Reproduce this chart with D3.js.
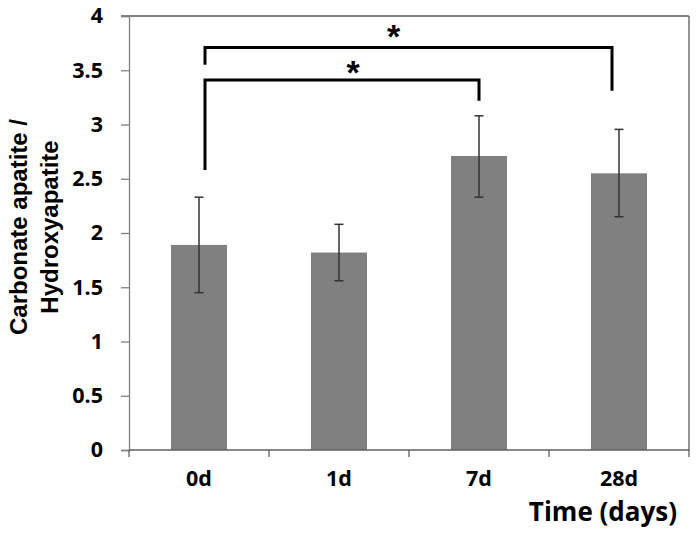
<!DOCTYPE html>
<html><head><meta charset="utf-8">
<script src="https://cdn.jsdelivr.net/npm/d3@7"></script>
<style>body{margin:0;background:#fff}svg{display:block}</style>
</head><body>
<svg id="c" width="699" height="535"></svg>
<script>
const categories = ["0d", "1d", "7d", "28d"];
const values = [1.89, 1.82, 2.71, 2.55];
const errLow = [1.45, 1.56, 2.33, 2.15];
const errHigh = [2.33, 2.08, 3.08, 2.955];
const yTicks = [0, 0.5, 1, 1.5, 2, 2.5, 3, 3.5, 4];
const yTickLabels = ["0", "0.5", "1", "1.5", "2", "2.5", "3", "3.5", "4"];
// significance brackets: from/to categories, bar height, left/right leg bottoms (value units)
const brackets = [
  {from: "0d", to: "7d", top: 3.41, leftEnd: 2.58, rightEnd: 3.22, label: "*"},
  {from: "0d", to: "28d", top: 3.71, leftEnd: 3.55, rightEnd: 3.31, label: "*"}
];

const svg = d3.select("#c");
const L = 129, R = 689, T = 16, B = 450;
const x = d3.scaleBand().domain(categories).range([L, R]).paddingInner(0.6).paddingOuter(0.3);
const xb = d3.scaleBand().domain(categories).range([L, R]);
const y = d3.scaleLinear().domain([0, 4]).range([B, T]);
const tickFont = "'Open Sans', 'Noto Sans', sans-serif";

// plot frame: top and right
svg.append("line").attr("x1", L - 8).attr("x2", R).attr("y1", y(4)).attr("y2", y(4))
  .attr("stroke", "#5a5a5a").attr("stroke-width", 1.3);
svg.append("line").attr("x1", R).attr("x2", R).attr("y1", y(4)).attr("y2", B)
  .attr("stroke", "#5a5a5a").attr("stroke-width", 1.3);

// bars
svg.selectAll("rect.bar").data(categories).enter().append("rect")
  .attr("x", d => x(d)).attr("width", x.bandwidth())
  .attr("y", (d, i) => y(values[i])).attr("height", (d, i) => B - y(values[i]))
  .attr("fill", "#808080");

// y axis
const yAxis = d3.axisLeft(y).tickValues(yTicks).tickFormat((d, i) => yTickLabels[i]).tickSize(8).tickPadding(18);
const gy = svg.append("g").attr("transform", `translate(${L},0)`).call(yAxis);
gy.select(".domain").attr("stroke", "#808080").attr("stroke-width", 1.3);
gy.selectAll(".tick line").attr("stroke", "#808080").attr("stroke-width", 1.3);
gy.selectAll(".tick text").attr("font-family", tickFont).attr("font-weight", "bold")
  .attr("font-size", 21.5).attr("fill", "#000");

// x axis: ticks at band boundaries
svg.append("line").attr("x1", L).attr("x2", R).attr("y1", B).attr("y2", B)
  .attr("stroke", "#606060").attr("stroke-width", 1.5);
const boundaries = categories.map(d => xb(d)).concat([R]);
svg.selectAll("line.xt").data(boundaries).enter().append("line")
  .attr("x1", d => d).attr("x2", d => d).attr("y1", B).attr("y2", B + 7)
  .attr("stroke", "#606060").attr("stroke-width", 1.3);
svg.selectAll("text.xl").data(categories).enter().append("text")
  .attr("x", d => x(d) + x.bandwidth() / 2).attr("y", 486)
  .attr("text-anchor", "middle").attr("font-family", tickFont).attr("font-weight", "bold")
  .attr("font-size", 21.5).text(d => d);

// error bars
const eb = svg.append("g").attr("stroke", "#333").attr("stroke-width", 1.5);
categories.forEach((c, i) => {
  const cx = x(c) + x.bandwidth() / 2;
  eb.append("line").attr("x1", cx).attr("x2", cx).attr("y1", y(errLow[i])).attr("y2", y(errHigh[i]));
  eb.append("line").attr("x1", cx - 4.5).attr("x2", cx + 4.5).attr("y1", y(errLow[i])).attr("y2", y(errLow[i]));
  eb.append("line").attr("x1", cx - 4.5).attr("x2", cx + 4.5).attr("y1", y(errHigh[i])).attr("y2", y(errHigh[i]));
});

// brackets
brackets.forEach(b => {
  const x1 = x(b.from) + x.bandwidth() / 2 + 6;
  const x2 = x(b.to) + x.bandwidth() / 2 + (b.to === "28d" ? -7 : 0);
  const p = d3.path();
  p.moveTo(x1, y(b.leftEnd)); p.lineTo(x1, y(b.top)); p.lineTo(x2, y(b.top)); p.lineTo(x2, y(b.rightEnd));
  svg.append("path").attr("d", p.toString()).attr("fill", "none").attr("stroke", "#000").attr("stroke-width", 3);
  svg.append("text").attr("x", (x1 + x2) / 2 + (b.to === "28d" ? -15 : 11)).attr("y", y(b.top) + (b.to === "28d" ? 1 : 4))
    .attr("text-anchor", "middle").attr("font-family", "'Liberation Sans', Arial, sans-serif")
    .attr("font-weight", "bold").attr("font-size", 34).text(b.label);
});

// axis titles
const yt = svg.append("text").attr("transform", "translate(0,227) rotate(-90)")
  .attr("text-anchor", "middle").attr("font-family", "'Liberation Sans', Arial, sans-serif")
  .attr("font-weight", "bold").attr("font-size", 24);
yt.append("tspan").attr("x", 0).attr("y", 27).text("Carbonate apatite /");
yt.append("tspan").attr("x", 0).attr("y", 58).text("Hydroxyapatite");

svg.append("text").attr("x", 677).attr("y", 521).attr("text-anchor", "end")
  .attr("font-family", tickFont).attr("font-weight", "bold").attr("font-size", 26).text("Time (days)");
</script>
</body></html>
